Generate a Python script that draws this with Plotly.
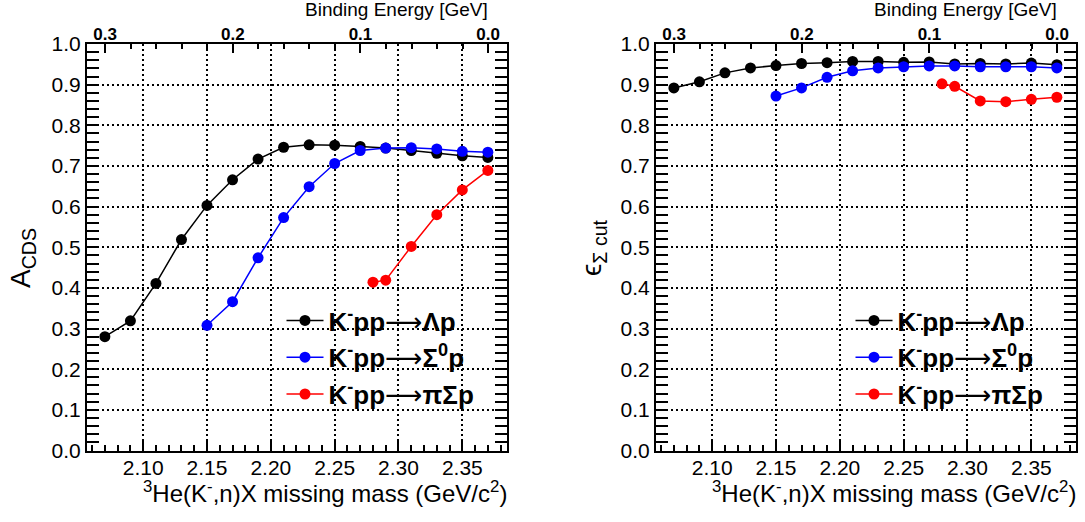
import plotly.graph_objects as go

# ---------------- data ----------------
mass_ldp = [2.07, 2.09, 2.11, 2.13, 2.15, 2.17, 2.19, 2.21, 2.23, 2.25, 2.27, 2.29, 2.31, 2.33, 2.35, 2.37]
mass_s0p = [2.15, 2.17, 2.19, 2.21, 2.23, 2.25, 2.27, 2.29, 2.31, 2.33, 2.35, 2.37]
mass_pisp = [2.28, 2.29, 2.31, 2.33, 2.35, 2.37]

acds_ldp = [0.280, 0.319, 0.411, 0.519, 0.603, 0.666, 0.717, 0.746, 0.752, 0.751, 0.748, 0.744, 0.738, 0.731, 0.725, 0.721]
acds_s0p = [0.308, 0.366, 0.474, 0.573, 0.649, 0.706, 0.738, 0.744, 0.745, 0.742, 0.736, 0.734]
acds_pisp = [0.414, 0.419, 0.502, 0.580, 0.641, 0.689]

eff_ldp = [0.892, 0.907, 0.929, 0.941, 0.947, 0.952, 0.954, 0.957, 0.957, 0.955, 0.956, 0.951, 0.952, 0.951, 0.953, 0.949]
eff_s0p = [0.872, 0.892, 0.918, 0.934, 0.941, 0.944, 0.946, 0.946, 0.944, 0.944, 0.944, 0.941]
eff_pisp = [0.902, 0.896, 0.860, 0.858, 0.864, 0.869]

ARROW = '<span style="font-family:DejaVu Sans;font-weight:normal">⟶</span>'
names = [f"<b>K<sup>-</sup>pp</b>{ARROW}<b>Λp</b>",
         f"<b>K<sup>-</sup>pp</b>{ARROW}<b>Σ<sup>0</sup>p</b>",
         f"<b>K<sup>-</sup>pp</b>{ARROW}<b>πΣp</b>"]
colors = ["#000000", "#0000ff", "#ff0000"]

x_ticks = [2.10, 2.15, 2.20, 2.25, 2.30, 2.35]
be_ticks = [0.0, 0.1, 0.2, 0.3]

M_TH = 2.3702          # K- + p + p threshold (GeV/c^2)
X_RANGE = [2.056, 2.385]
BE_RANGE = [M_TH - X_RANGE[0], M_TH - X_RANGE[1]]

W, H = 1085, 522
FONT = "Liberation Sans, Arial, Helvetica, sans-serif"

# frame geometry in pixels
frames = [(87, 507), (656, 1076)]
y_top, y_bot = 44, 450.5

fig = go.Figure()

panels = [
    ([mass_ldp, mass_s0p, mass_pisp], [acds_ldp, acds_s0p, acds_pisp]),
    ([mass_ldp, mass_s0p, mass_pisp], [eff_ldp, eff_s0p, eff_pisp]),
]

for p, (xs, ys) in enumerate(panels):
    xa = "x" if p == 0 else "x2"
    ya = "y" if p == 0 else "y2"
    lg = "legend" if p == 0 else "legend2"
    for i in range(3):
        fig.add_trace(go.Scatter(
            x=xs[i], y=ys[i], mode="lines+markers", name=names[i],
            line=dict(color=colors[i], width=1.5),
            marker=dict(color=colors[i], size=11, symbol="circle"),
            xaxis=xa, yaxis=ya, legend=lg, legendgroup=f"g{p}{i}",
        ))
    # empty trace to activate the top (binding energy) axis
    fig.add_trace(go.Scatter(x=[], y=[], xaxis="x3" if p == 0 else "x4", yaxis=ya,
                             showlegend=False, hoverinfo="skip"))

grid_common = dict(showgrid=True, gridcolor="#000000", gridwidth=1.5, griddash="2px,3px")

def xaxis_cfg(dom, anchor):
    return dict(
        domain=dom, anchor=anchor, range=X_RANGE, automargin=False,
        tickmode="array", tickvals=x_ticks, ticktext=[f"{v:.2f}" for v in x_ticks],
        ticks="inside", ticklen=12, tickwidth=1.5, tickcolor="#000",
        minor=dict(dtick=0.01, tick0=2.10, ticks="inside", ticklen=6, tickwidth=1.5, tickcolor="#000", showgrid=False),
        showline=True, linecolor="#000", linewidth=2, mirror=True,
        tickfont=dict(family=FONT, size=21, color="#000"), ticklabelstandoff=-3,
        zeroline=False, **grid_common,
    )

def yaxis_cfg(dom, anchor):
    return dict(
        domain=dom, anchor=anchor, range=[0, 1], automargin=False,
        dtick=0.1, tick0=0, tickformat=".1f",
        ticks="inside", ticklen=12, tickwidth=1.5, tickcolor="#000",
        minor=dict(dtick=0.02, tick0=0, ticks="inside", ticklen=6, tickwidth=1.5, tickcolor="#000", showgrid=False),
        showline=True, linecolor="#000", linewidth=2, mirror="allticks",
        tickfont=dict(family=FONT, size=21, color="#000"),
        zeroline=False, **grid_common,
    )

def top_cfg(overlay, anchor):
    return dict(
        overlaying=overlay, anchor=anchor, side="top", range=BE_RANGE, automargin=False,
        tickmode="array", tickvals=be_ticks, ticktext=[f"<b>{v:.1f}</b>" for v in be_ticks],
        ticks="inside", ticklen=9, tickwidth=1.5, tickcolor="#000",
        minor=dict(dtick=0.02, tick0=0, ticks="inside", ticklen=5, tickwidth=1.5, tickcolor="#000", showgrid=False),
        showline=False, showgrid=False, zeroline=False,
        tickfont=dict(family=FONT, size=17, color="#000"),
    )

ydom = [1 - y_bot / H, 1 - y_top / H]
xd1 = [frames[0][0] / W, frames[0][1] / W]
xd2 = [frames[1][0] / W, frames[1][1] / W]

leg_common = dict(xanchor="left", yanchor="top", bgcolor="rgba(0,0,0,0)",
                  font=dict(family=FONT, size=26, color="#000"),
                  tracegroupgap=0, itemwidth=37)

fig.update_layout(
    width=W, height=H,
    margin=dict(l=0, r=0, t=0, b=0, pad=0, autoexpand=False),
    paper_bgcolor="white", plot_bgcolor="white",
    font=dict(family=FONT, color="#000"),
    xaxis=xaxis_cfg(xd1, "y"),
    yaxis=yaxis_cfg(ydom, "x"),
    xaxis2=xaxis_cfg(xd2, "y2"),
    yaxis2=yaxis_cfg(ydom, "x2"),
    xaxis3=top_cfg("x", "y"),
    xaxis4=top_cfg("x2", "y2"),
    legend=dict(x=281.5 / W, y=1 - 297 / H, **leg_common),
    legend2=dict(x=850.5 / W, y=1 - 297 / H, **leg_common),
    showlegend=True,
)

xtitle = "<sup>3</sup>He(K<sup>-</sup>,n)X missing mass (GeV/c<sup>2</sup>)"
annots = []
for p in range(2):
    right = frames[p][1]
    be0 = right - (X_RANGE[1] - M_TH) / (X_RANGE[1] - X_RANGE[0]) * (frames[p][1] - frames[p][0])
    annots.append(dict(text=xtitle, x=(right + 2) / W, y=1 - 492 / H, xref="paper", yref="paper",
                       xanchor="right", yanchor="middle", showarrow=False,
                       font=dict(family=FONT, size=24, color="#000")))
    annots.append(dict(text="Binding Energy [GeV]", x=(be0 + 2) / W, y=1 - 9 / H, xref="paper", yref="paper",
                       xanchor="right", yanchor="middle", showarrow=False,
                       font=dict(family=FONT, size=19, color="#000")))
annots.append(dict(text="A<sub>CDS</sub>", x=22 / W, y=1 - 258 / H, xref="paper", yref="paper",
                   xanchor="center", yanchor="middle", textangle=-90, showarrow=False,
                   font=dict(family=FONT, size=28, color="#000")))
annots.append(dict(text="ϵ<sub>Σ cut</sub>", x=593 / W, y=1 - 248 / H, xref="paper", yref="paper",
                   xanchor="center", yanchor="middle", textangle=-90, showarrow=False,
                   font=dict(family=FONT, size=28, color="#000")))
fig.update_layout(annotations=annots)

fig.write_html("out.html", config={"displayModeBar": False},
               post_script="document.body.style.margin='0px';document.body.style.overflow='hidden';")
